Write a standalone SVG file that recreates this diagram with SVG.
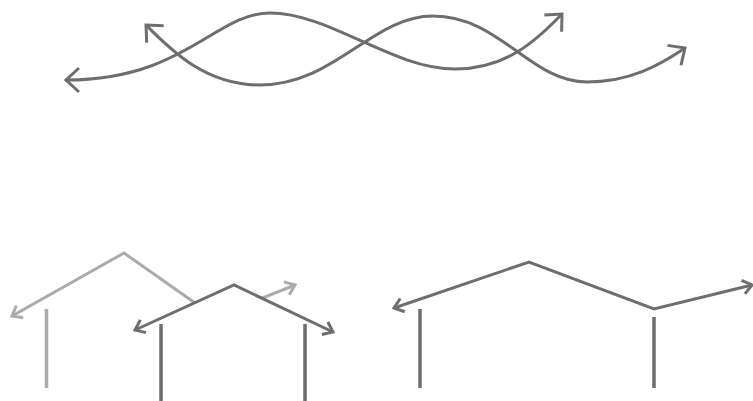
<svg xmlns="http://www.w3.org/2000/svg" width="753" height="401" viewBox="0 0 753 401">
<style>
.dk{fill:none;stroke:#6e6e6e;stroke-width:3;stroke-linejoin:miter}
.lt{fill:none;stroke:#ababab;stroke-width:3}
.wall-d{stroke:#6e6e6e;stroke-width:3.5}
.wall-l{stroke:#ababab;stroke-width:3.5}
</style>
<defs>
<marker id="big" markerUnits="userSpaceOnUse" orient="auto-start-reverse" overflow="visible" markerWidth="1" markerHeight="1">
<path d="M-13,-12 L0,0 L-13,12" fill="none" stroke="#6e6e6e" stroke-width="3"/>
</marker>
<marker id="smd" markerUnits="userSpaceOnUse" orient="auto-start-reverse" overflow="visible" markerWidth="1" markerHeight="1">
<path d="M-9,-7 L0,0 L-9,7" fill="none" stroke="#6e6e6e" stroke-width="3"/>
</marker>
<marker id="sml" markerUnits="userSpaceOnUse" orient="auto-start-reverse" overflow="visible" markerWidth="1" markerHeight="1">
<path d="M-9,-7 L0,0 L-9,7" fill="none" stroke="#ababab" stroke-width="3"/>
</marker>
</defs>
<g id="connectors">
<path id="curveA" class="dk" d="M66,80 C185,80 215,13 270,13 C330,13 392,69 455,69 C505,69 535,42 562,14" marker-start="url(#big)" marker-end="url(#big)"/>
<path id="curveB" class="dk" d="M146,25 C171,50 205,85 260,85 C335,85 372,16 433,16 C500,16 530,82 587,82 C630,82 660,65 685,48" marker-start="url(#big)" marker-end="url(#big)"/>
</g>
<g id="house-light">
<polyline class="lt" points="12,316 124,253 215,317 295,285" marker-start="url(#sml)" marker-end="url(#sml)"/>
<line class="wall-l" x1="46.5" y1="309" x2="46.5" y2="388"/>
</g>
<g id="house-mid">
<polygon points="135,330 234,285 333,332 333,401 135,401" fill="#ffffff"/>
<polyline class="dk" points="135,330 234,285 333,332" marker-start="url(#smd)" marker-end="url(#smd)"/>
<line class="wall-d" x1="161" y1="324" x2="161" y2="401"/>
<line class="wall-d" x1="305" y1="324" x2="305" y2="401"/>
</g>
<g id="house-right">
<polyline class="dk" points="394,308 529,262 654,309 752,285" marker-start="url(#smd)" marker-end="url(#smd)"/>
<line class="wall-d" x1="420" y1="309" x2="420" y2="388"/>
<line class="wall-d" x1="654" y1="317" x2="654" y2="388"/>
</g>
</svg>
